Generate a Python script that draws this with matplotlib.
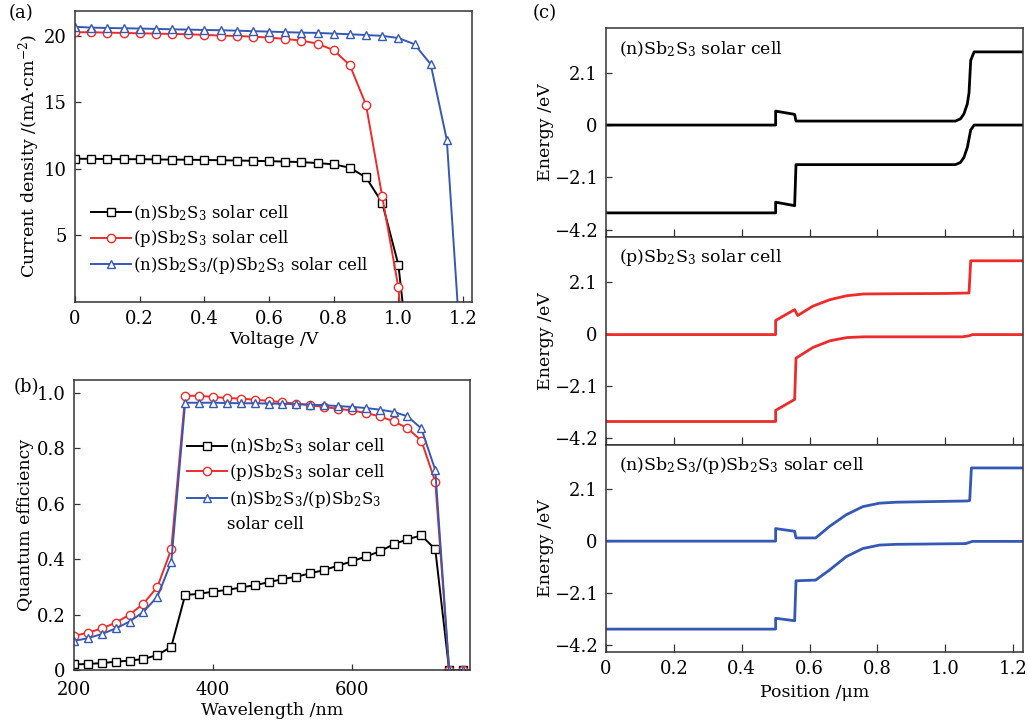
import matplotlib
matplotlib.use('Agg')
import matplotlib.pyplot as plt

plt.rcParams['font.family'] = ['DejaVu Serif']
plt.rcParams['mathtext.fontset'] = 'dejavuserif'

# ---- (a) J-V curves ----
v_n = [0, 0.05, 0.1, 0.15, 0.2, 0.25, 0.3, 0.35, 0.4, 0.45, 0.5, 0.55, 0.6, 0.65, 0.7,
       0.75, 0.8, 0.85, 0.9, 0.95, 1.0, 1.013]
j_n = [10.75, 10.75, 10.73, 10.72, 10.72, 10.7, 10.69, 10.68, 10.66, 10.64, 10.62, 10.6,
       10.57, 10.54, 10.5, 10.43, 10.33, 10.08, 9.35, 7.45, 2.8, 0]
v_p = [0, 0.05, 0.1, 0.15, 0.2, 0.25, 0.3, 0.35, 0.4, 0.45, 0.5, 0.55, 0.6, 0.65, 0.7,
       0.75, 0.8, 0.85, 0.9, 0.95, 1.0, 1.004]
j_p = [20.25, 20.25, 20.22, 20.2, 20.17, 20.15, 20.12, 20.1, 20.05, 20.0, 19.97, 19.92,
       19.85, 19.75, 19.62, 19.4, 18.9, 17.78, 14.8, 7.93, 1.1, 0]
v_np = [0, 0.05, 0.1, 0.15, 0.2, 0.25, 0.3, 0.35, 0.4, 0.45, 0.5, 0.55, 0.6, 0.65, 0.7,
        0.75, 0.8, 0.85, 0.9, 0.95, 1.0, 1.05, 1.1, 1.15, 1.183]
j_np = [20.66, 20.6, 20.57, 20.55, 20.53, 20.5, 20.47, 20.45, 20.42, 20.4, 20.37, 20.33,
        20.3, 20.26, 20.22, 20.2, 20.15, 20.1, 20.04, 19.98, 19.82, 19.35, 17.85, 12.15, 0]

# ---- (b) quantum efficiency ----
wl = [200, 220, 240, 260, 280, 300, 320, 340, 360, 380, 400, 420, 440, 460, 480, 500,
      520, 540, 560, 580, 600, 620, 640, 660, 680, 700, 720, 740, 760]
qe_n = [0.02, 0.022, 0.025, 0.03, 0.034, 0.04, 0.054, 0.084, 0.271, 0.275, 0.283, 0.289,
        0.298, 0.306, 0.317, 0.328, 0.337, 0.349, 0.361, 0.377, 0.392, 0.41, 0.428,
        0.454, 0.472, 0.486, 0.436, 0, 0]
qe_p = [0.123, 0.135, 0.15, 0.171, 0.2, 0.24, 0.30, 0.436, 0.99, 0.99, 0.986, 0.982,
        0.98, 0.976, 0.972, 0.967, 0.962, 0.956, 0.95, 0.943, 0.937, 0.928, 0.916,
        0.898, 0.873, 0.828, 0.68, 0, 0]
qe_np = [0.105, 0.115, 0.13, 0.15, 0.175, 0.21, 0.265, 0.39, 0.965, 0.965, 0.965, 0.964,
         0.963, 0.963, 0.962, 0.961, 0.96, 0.958, 0.956, 0.953, 0.95, 0.946, 0.94,
         0.932, 0.916, 0.872, 0.722, 0, 0]

# ---- (c) band diagrams ----
pos_n_cb = [0, 0.5, 0.5, 0.556, 0.56, 1.03, 1.045, 1.055, 1.065, 1.07, 1.075, 1.085, 1.23]
e_n_cb = [0, 0, 0.56, 0.43, 0.16, 0.16, 0.25, 0.45, 0.85, 1.3, 2.6, 2.94, 2.94]
pos_n_vb = [0, 0.5, 0.5, 0.556, 0.56, 1.03, 1.045, 1.055, 1.065, 1.075, 1.085, 1.23]
e_n_vb = [-3.53, -3.53, -3.1, -3.24, -1.59, -1.59, -1.5, -1.3, -0.9, -0.2, 0, 0]

pos_p_cb = [0, 0.5, 0.5, 0.556, 0.565, 0.61, 0.66, 0.71, 0.76, 0.85, 1.0, 1.07, 1.075,
            1.08, 1.23]
e_p_cb = [-0.04, -0.04, 0.53, 0.97, 0.73, 1.11, 1.37, 1.53, 1.6, 1.61, 1.62, 1.64, 2.94,
          2.94, 2.94]
pos_p_vb = [0, 0.5, 0.5, 0.556, 0.56, 0.61, 0.66, 0.71, 0.76, 0.85, 1.05, 1.07, 1.08, 1.23]
e_p_vb = [-3.55, -3.55, -3.1, -2.66, -0.99, -0.56, -0.29, -0.16, -0.13, -0.13, -0.13,
          -0.09, -0.04, -0.04]

pos_np_cb = [0, 0.5, 0.5, 0.556, 0.56, 0.618, 0.659, 0.708, 0.757, 0.806, 0.855, 1.065,
             1.072, 1.077, 1.23]
e_np_cb = [0, 0, 0.51, 0.4, 0.13, 0.13, 0.6, 1.07, 1.4, 1.54, 1.58, 1.63, 1.65, 2.97, 2.97]
pos_np_vb = [0, 0.5, 0.5, 0.556, 0.56, 0.618, 0.659, 0.708, 0.757, 0.806, 0.855, 1.06,
             1.08, 1.23]
e_np_vb = [-3.57, -3.57, -3.13, -3.23, -1.61, -1.58, -1.17, -0.63, -0.3, -0.16, -0.13,
           -0.1, -0.01, -0.01]

e_ticks = [-4.2, -2.1, 0, 2.1]
e_ticklabels = ['\u22124.2', '\u22122.1', '0', '2.1']

lab_n = r'(n)Sb$_2$S$_3$ solar cell'
lab_p = r'(p)Sb$_2$S$_3$ solar cell'
lab_np = r'(n)Sb$_2$S$_3$/(p)Sb$_2$S$_3$ solar cell'

red = '#ee2b2b'
blue = '#3558b5'
spc = '#333333'
fs_tick = 13
fs_lab = 12.5


def style(ax):
    for s in ax.spines.values():
        s.set_color(spc)
        s.set_linewidth(1.1)
    ax.tick_params(direction='in', length=4, width=0.9, color=spc, labelsize=fs_tick,
                   pad=6)


fig = plt.figure(figsize=(10.28, 7.2), dpi=100)

# (a)
ax1 = fig.add_axes([0.0730, 0.5806, 0.3862, 0.4042])
mk = dict(mfc='white', ms=6, mew=1.0, lw=1.4)
ax1.plot(v_n, j_n, color='black', marker='s', markevery=slice(0, -1), label=lab_n, **mk)
ax1.plot(v_p, j_p, color=red, marker='o', markevery=slice(0, -1), label=lab_p, **mk)
ax1.plot(v_np, j_np, color=blue, marker='^', markevery=slice(0, -1), label=lab_np, **mk)
ax1.set_xlim(0, 1.228)
ax1.set_ylim(0, 21.85)
ax1.set_xticks([0, 0.2, 0.4, 0.6, 0.8, 1.0, 1.2])
ax1.set_xticklabels(['0', '0.2', '0.4', '0.6', '0.8', '1.0', '1.2'])
ax1.set_yticks([5, 10, 15, 20])
ax1.set_xlabel('Voltage /V', fontsize=fs_lab, labelpad=2)
ax1.set_ylabel('Current density /(mA\u00b7cm$^{-2}$)', fontsize=fs_lab, labelpad=1)
style(ax1)
ax1.legend(loc='lower left', bbox_to_anchor=(0.02, 0.06), frameon=False,
           fontsize=12, borderpad=0, labelspacing=0.35, handlelength=2.4,
           handletextpad=0.1)
fig.text(0.008, 0.975, '(a)', fontsize=13)

# (b)
ax2 = fig.add_axes([0.0720, 0.0694, 0.3852, 0.4028])
ax2.plot(wl, qe_n, color='black', marker='s', label=lab_n, **mk)
ax2.plot(wl, qe_p, color=red, marker='o', label=lab_p, **mk)
ax2.plot(wl, qe_np, color=blue, marker='^', label=r'(n)Sb$_2$S$_3$/(p)Sb$_2$S$_3$', **mk)
ax2.set_xlim(200, 770)
ax2.set_ylim(0, 1.047)
ax2.set_xticks([200, 400, 600])
ax2.set_yticks([0, 0.2, 0.4, 0.6, 0.8, 1.0])
ax2.set_yticklabels(['0', '0.2', '0.4', '0.6', '0.8', '1.0'])
style(ax2)
ax2.tick_params(axis='x', pad=8)
ax2.set_xlabel('Wavelength /nm', fontsize=fs_lab, labelpad=2)
ax2.set_ylabel('Quantum efficiency', fontsize=fs_lab, labelpad=2)
ax2.legend(loc='upper left', bbox_to_anchor=(0.265, 0.832), frameon=False,
           fontsize=12, borderpad=0, labelspacing=0.35, handlelength=2.4,
           handletextpad=0.1)
ax2.text(0.386, 0.502, 'solar cell', transform=ax2.transAxes, fontsize=12,
         va='center', ha='left')
fig.text(0.013, 0.455, '(b)', fontsize=13)

# (c)
boxes = [[0.5895, 0.6708, 0.4056, 0.2903],
         [0.5895, 0.3819, 0.4056, 0.2889],
         [0.5895, 0.0944, 0.4056, 0.2875]]
bands = [(pos_n_cb, e_n_cb, pos_n_vb, e_n_vb, 'black', lab_n),
         (pos_p_cb, e_p_cb, pos_p_vb, e_p_vb, red, lab_p),
         (pos_np_cb, e_np_cb, pos_np_vb, e_np_vb, blue, lab_np)]
for i, (box, b) in enumerate(zip(boxes, bands)):
    ax = fig.add_axes(box)
    ax.plot(b[0], b[1], color=b[4], lw=2.0)
    ax.plot(b[2], b[3], color=b[4], lw=2.0)
    ax.set_xlim(0, 1.229)
    ax.set_ylim(-4.5, 3.9)
    ax.set_yticks(e_ticks)
    ax.set_yticklabels(e_ticklabels)
    ax.set_xticks([0, 0.2, 0.4, 0.6, 0.8, 1.0, 1.2])
    ax.set_ylabel('Energy /eV', fontsize=fs_lab, labelpad=0)
    ax.text(0.03, 0.9, b[5], transform=ax.transAxes, fontsize=12.5, va='center')
    style(ax)
    if i < 2:
        ax.tick_params(axis='x', labelbottom=False, length=6)
    else:
        ax.set_xticklabels(['0', '0.2', '0.4', '0.6', '0.8', '1.0', '1.2'])
        ax.set_xlabel('Position /\u03bcm', fontsize=fs_lab, labelpad=4)
        ax.tick_params(axis='x', length=6)
fig.text(0.518, 0.975, '(c)', fontsize=13)

fig.savefig('out.png', dpi=100)
